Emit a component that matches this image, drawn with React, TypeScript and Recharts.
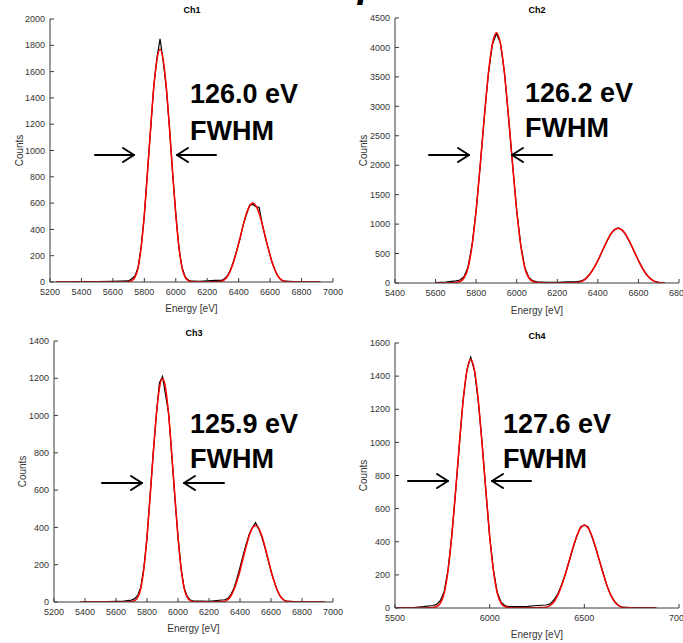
import React from 'react';
import { LineChart, Line, XAxis, YAxis } from 'recharts';

// ---------- Ch1 ----------
const ch1Energy = [5240, 5300, 5400, 5500, 5600, 5650, 5700, 5720, 5740, 5760, 5780, 5800, 5820, 5840, 5860, 5880, 5900, 5920, 5940, 5960, 5980, 6000, 6020, 6040, 6060, 6080, 6100, 6150, 6200, 6250, 6290, 6310, 6330, 6350, 6370, 6390, 6410, 6430, 6450, 6470, 6490, 6510, 6530, 6550, 6570, 6590, 6610, 6630, 6650, 6670, 6690, 6750, 6800, 6850, 6920];
const ch1Counts = [0, 2, 3, 3, 5, 6, 8, 25, 45, 110, 270, 505, 840, 1160, 1490, 1700, 1850, 1680, 1470, 1175, 825, 520, 260, 110, 38, 14, 6, 5, 8, 12, 12, 25, 50, 98, 168, 250, 335, 440, 515, 585, 590, 572, 568, 440, 335, 250, 158, 95, 42, 16, 6, 3, 2, 2, 1];
const ch1Fit = [0, 0, 0, 0, 0, 0, 4, 11, 35, 106, 266, 513, 832, 1168, 1478, 1690, 1770, 1690, 1478, 1168, 832, 513, 266, 106, 35, 11, 4, 1, 1, 2, 6, 18, 45, 93, 162, 246, 342, 438, 522, 579, 600, 579, 522, 438, 342, 246, 162, 93, 45, 18, 6, 1, 0, 0, 0];
const ch1XTicks = [5200, 5400, 5600, 5800, 6000, 6200, 6400, 6600, 6800, 7000];
const ch1YTicks = [0, 200, 400, 600, 800, 1000, 1200, 1400, 1600, 1800, 2000];

// ---------- Ch2 ----------
const ch2Energy = [5600, 5650, 5700, 5720, 5740, 5760, 5780, 5800, 5820, 5840, 5860, 5880, 5900, 5920, 5940, 5960, 5980, 6000, 6020, 6040, 6060, 6080, 6100, 6150, 6200, 6250, 6300, 6320, 6340, 6360, 6380, 6400, 6420, 6440, 6460, 6480, 6500, 6520, 6540, 6560, 6580, 6600, 6620, 6640, 6660, 6680, 6700, 6730];
const ch2Counts = [8, 15, 35, 50, 105, 270, 650, 1240, 1990, 2810, 3540, 4050, 4235, 4070, 3560, 2800, 2005, 1225, 645, 262, 95, 35, 18, 12, 10, 18, 22, 35, 78, 150, 255, 378, 528, 676, 812, 905, 935, 900, 805, 676, 528, 384, 248, 140, 72, 27, 10, 3];
const ch2Fit = [0, 1, 9, 26, 85, 255, 638, 1233, 1998, 2805, 3549, 4059, 4250, 4059, 3549, 2805, 1998, 1233, 638, 255, 85, 26, 9, 2, 1, 3, 9, 28, 70, 144, 251, 381, 530, 679, 809, 897, 930, 897, 809, 679, 530, 381, 251, 144, 70, 28, 9, 2];
const ch2XTicks = [5400, 5600, 5800, 6000, 6200, 6400, 6600, 6800];
const ch2YTicks = [0, 500, 1000, 1500, 2000, 2500, 3000, 3500, 4000, 4500];

// ---------- Ch3 ----------
const ch3Energy = [5370, 5450, 5550, 5650, 5700, 5720, 5740, 5760, 5780, 5800, 5820, 5840, 5860, 5880, 5900, 5920, 5940, 5960, 5980, 6000, 6020, 6040, 6060, 6080, 6100, 6150, 6200, 6250, 6300, 6320, 6340, 6360, 6380, 6400, 6420, 6440, 6460, 6480, 6500, 6520, 6540, 6560, 6580, 6600, 6620, 6640, 6660, 6680, 6700, 6750, 6800, 6870, 6950];
const ch3Counts = [0, 1, 2, 5, 10, 18, 35, 80, 185, 345, 570, 800, 1000, 1175, 1210, 1110, 1010, 785, 560, 350, 178, 75, 28, 10, 5, 5, 4, 8, 12, 18, 38, 72, 125, 185, 250, 310, 365, 400, 425, 395, 350, 295, 230, 165, 112, 62, 30, 12, 5, 2, 1, 1, 0];
const ch3Fit = [0, 0, 0, 0, 2, 7, 24, 72, 180, 348, 564, 792, 1002, 1146, 1200, 1146, 1002, 792, 564, 348, 180, 72, 24, 7, 2, 1, 1, 2, 4, 12, 31, 64, 111, 168, 234, 299, 357, 396, 410, 396, 357, 299, 234, 168, 111, 64, 31, 12, 4, 1, 0, 0, 0];
const ch3XTicks = [5200, 5400, 5600, 5800, 6000, 6200, 6400, 6600, 6800, 7000];
const ch3YTicks = [0, 200, 400, 600, 800, 1000, 1200, 1400];

// ---------- Ch4 ----------
const ch4Energy = [5500, 5550, 5600, 5650, 5700, 5720, 5740, 5760, 5780, 5800, 5820, 5840, 5860, 5880, 5900, 5920, 5940, 5960, 5980, 6000, 6020, 6040, 6060, 6080, 6100, 6150, 6200, 6250, 6300, 6320, 6340, 6360, 6380, 6400, 6420, 6440, 6460, 6480, 6500, 6520, 6540, 6560, 6580, 6600, 6620, 6640, 6660, 6680, 6700, 6750, 6800, 6880];
const ch4Counts = [0, 2, 3, 8, 15, 22, 45, 100, 230, 440, 700, 985, 1260, 1440, 1515, 1430, 1245, 995, 710, 430, 230, 95, 35, 15, 8, 8, 10, 15, 18, 25, 50, 85, 140, 205, 282, 362, 432, 490, 502, 490, 430, 362, 285, 210, 132, 75, 40, 15, 6, 3, 2, 1];
const ch4Fit = [0, 0, 0, 0, 3, 9, 30, 90, 225, 435, 705, 990, 1253, 1433, 1500, 1433, 1253, 990, 705, 435, 225, 90, 30, 9, 3, 1, 1, 2, 5, 15, 38, 78, 135, 205, 285, 365, 435, 483, 500, 483, 435, 365, 285, 205, 135, 78, 38, 15, 5, 1, 0, 0];
const ch4XTicks = [5500, 6000, 6500, 7000];
const ch4YTicks = [0, 200, 400, 600, 800, 1000, 1200, 1400, 1600];

const fwhmLabels = ['126.0 eV', '126.2 eV', '125.9 eV', '127.6 eV'];
const titles = ['Ch1', 'Ch2', 'Ch3', 'Ch4'];

const FONT = "'Liberation Sans', Arial, Helvetica, sans-serif";
const AXIS_DARK = '#3a3a3a';
const AXIS_LIGHT = '#808080';
const TICK_COLOR = '#333';

function rows(energy: number[], counts: number[], fit: number[]) {
  return energy.map((e, i) => ({ e, counts: counts[i], fit: fit[i] }));
}

type PanelProps = {
  left: number;
  top: number;
  width: number;
  height: number;
  margin: { top: number; right: number; left: number; bottom: number };
  yAxisWidth: number;
  xAxisHeight: number;
  xDomain: [number, number];
  xTicks: number[];
  yDomain: [number, number];
  yTicks: number[];
  data: { e: number; counts: number; fit: number }[];
  yLabelOffset: number;
  xLabelOffset: number;
};

function Panel(p: PanelProps) {
  const tickStyle = { fontSize: 9, fill: TICK_COLOR, fontFamily: FONT };
  return (
    <div style={{ position: 'absolute', left: p.left, top: p.top }}>
      <LineChart width={p.width} height={p.height} data={p.data} margin={p.margin}>
        <XAxis
          dataKey="e"
          type="number"
          domain={p.xDomain}
          ticks={p.xTicks}
          interval={0}
          allowDataOverflow
          height={p.xAxisHeight}
          tickSize={-4}
          tickMargin={11}
          tick={tickStyle}
          axisLine={{ stroke: AXIS_DARK }}
          tickLine={{ stroke: AXIS_DARK }}
          label={{ value: 'Energy [eV]', position: 'insideBottom', offset: p.xLabelOffset, fontSize: 10, fill: TICK_COLOR, fontFamily: FONT }}
        />
        <XAxis
          xAxisId="top"
          dataKey="e"
          type="number"
          orientation="top"
          domain={p.xDomain}
          ticks={p.xTicks}
          interval={0}
          allowDataOverflow
          height={0}
          tickSize={-4}
          tick={false}
          axisLine={{ stroke: AXIS_LIGHT }}
          tickLine={{ stroke: AXIS_LIGHT }}
        />
        <YAxis
          type="number"
          domain={p.yDomain}
          ticks={p.yTicks}
          interval={0}
          allowDataOverflow
          width={p.yAxisWidth}
          tickSize={-4}
          tickMargin={9}
          tick={tickStyle}
          axisLine={{ stroke: AXIS_DARK }}
          tickLine={{ stroke: AXIS_DARK }}
          label={{ value: 'Counts', angle: -90, position: 'insideLeft', offset: p.yLabelOffset, fontSize: 10, fill: TICK_COLOR, fontFamily: FONT, style: { textAnchor: 'middle' } }}
        />
        <YAxis
          yAxisId="right"
          type="number"
          orientation="right"
          domain={p.yDomain}
          ticks={p.yTicks}
          interval={0}
          allowDataOverflow
          width={0}
          tickSize={-4}
          tick={false}
          axisLine={{ stroke: AXIS_LIGHT }}
          tickLine={{ stroke: AXIS_LIGHT }}
        />
        <Line dataKey="counts" type="linear" stroke="#000000" strokeWidth={1.2} dot={false} isAnimationActive={false} />
        <Line dataKey="fit" type="monotone" stroke="#ff0000" strokeWidth={1.5} dot={false} isAnimationActive={false} />
      </LineChart>
    </div>
  );
}

function ArrowPair({ y, r1, r2, l1, l2 }: { y: number; r1: number; r2: number; l1: number; l2: number }) {
  const s = { stroke: '#000', strokeWidth: 2, fill: 'none', strokeLinecap: 'round' as const, strokeLinejoin: 'round' as const };
  return (
    <g>
      <line x1={r1} y1={y} x2={r2} y2={y} {...s} />
      <polyline points={`${r2 - 11},${y - 7} ${r2},${y} ${r2 - 11},${y + 7}`} {...s} />
      <line x1={l1} y1={y} x2={l2} y2={y} {...s} />
      <polyline points={`${l2 + 11},${y - 7} ${l2},${y} ${l2 + 11},${y + 7}`} {...s} />
    </g>
  );
}

function Annotation({ x, y1, y2, label }: { x: number; y1: number; y2: number; label: string }) {
  const st = { fontFamily: FONT, fontWeight: 700, fontSize: 27, fill: '#000' };
  return (
    <g>
      <text x={x} y={y1} style={st}>{label}</text>
      <text x={x} y={y2} style={st}>FWHM</text>
    </g>
  );
}

export default function App() {
  const titleStyle = { fontFamily: FONT, fontWeight: 700, fontSize: 9, fill: '#000' };
  return (
    <div style={{ position: 'absolute', left: 0, top: 0, width: 683, height: 643, background: '#fff', overflow: 'hidden' }}>
      <style>{`.recharts-surface { overflow: visible; }`}</style>
      <Panel
        left={0} top={0} width={340} height={320}
        margin={{ top: 19, right: 7, left: 0, bottom: 0 }}
        yAxisWidth={50} xAxisHeight={38}
        xDomain={[5200, 7000]} xTicks={ch1XTicks}
        yDomain={[0, 2000]} yTicks={ch1YTicks}
        data={rows(ch1Energy, ch1Counts, ch1Fit)}
        yLabelOffset={19} xLabelOffset={8}
      />
      <Panel
        left={340} top={0} width={343} height={320}
        margin={{ top: 18, right: 4, left: 0, bottom: 0 }}
        yAxisWidth={55} xAxisHeight={37}
        xDomain={[5400, 6800]} xTicks={ch2XTicks}
        yDomain={[0, 4500]} yTicks={ch2YTicks}
        data={rows(ch2Energy, ch2Counts, ch2Fit)}
        yLabelOffset={23} xLabelOffset={6}
      />
      <Panel
        left={0} top={320} width={340} height={320}
        margin={{ top: 21, right: 7, left: 0, bottom: 0 }}
        yAxisWidth={54} xAxisHeight={38}
        xDomain={[5200, 7000]} xTicks={ch3XTicks}
        yDomain={[0, 1400]} yTicks={ch3YTicks}
        data={rows(ch3Energy, ch3Counts, ch3Fit)}
        yLabelOffset={22} xLabelOffset={8}
      />
      <Panel
        left={340} top={320} width={343} height={323}
        margin={{ top: 23, right: 4, left: 0, bottom: 0 }}
        yAxisWidth={55} xAxisHeight={35}
        xDomain={[5500, 7000]} xTicks={ch4XTicks}
        yDomain={[0, 1600]} yTicks={ch4YTicks}
        data={rows(ch4Energy, ch4Counts, ch4Fit)}
        yLabelOffset={23} xLabelOffset={5}
      />
      <svg width={683} height={643} style={{ position: 'absolute', left: 0, top: 0, pointerEvents: 'none' }}>
        <text x={245} y={-1} style={{ fontFamily: "'DejaVu Sans', sans-serif", fontWeight: 700, fontStyle: 'italic', fontSize: 30, fill: '#000' }}>55Fe Spectra</text>
        <text x={192} y={13} textAnchor="middle" style={titleStyle}>{titles[0]}</text>
        <text x={537} y={13} textAnchor="middle" style={titleStyle}>{titles[1]}</text>
        <text x={194} y={336} textAnchor="middle" style={titleStyle}>{titles[2]}</text>
        <text x={537} y={339} textAnchor="middle" style={titleStyle}>{titles[3]}</text>
        <Annotation x={190} y1={103} y2={140} label={fwhmLabels[0]} />
        <Annotation x={525} y1={102} y2={137} label={fwhmLabels[1]} />
        <Annotation x={190} y1={433} y2={468} label={fwhmLabels[2]} />
        <Annotation x={503} y1={433} y2={468} label={fwhmLabels[3]} />
        <ArrowPair y={155} r1={95} r2={134} l1={216} l2={177} />
        <ArrowPair y={155} r1={429} r2={469} l1={552} l2={512} />
        <ArrowPair y={483} r1={102} r2={142} l1={224} l2={184} />
        <ArrowPair y={481} r1={408} r2={448} l1={531} l2={492} />
      </svg>
    </div>
  );
}
